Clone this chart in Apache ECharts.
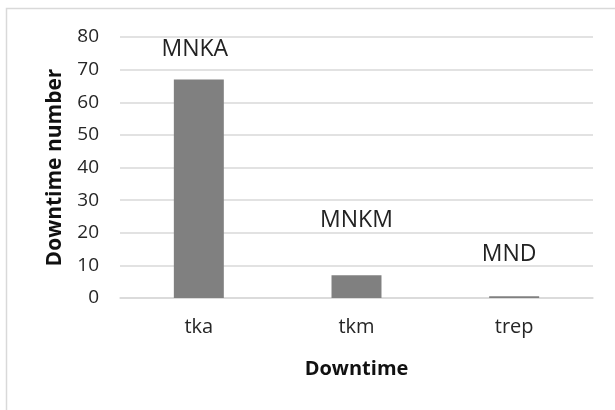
<!DOCTYPE html>
<html>
<head>
<meta charset="utf-8">
<script src="https://cdn.jsdelivr.net/npm/echarts@6/dist/echarts.min.js"></script>
<style>
  html, body { margin: 0; padding: 0; background: #fff; }
  #chart { width: 615px; height: 410px; }
</style>
</head>
<body>
<div id="chart"></div>
<script>
// Downtime counts per category
const categories = ['tka', 'tkm', 'trep'];
const downtimeValues = [67, 7, 0.5];
const pointLabels = ['MNKA', 'MNKM', 'MND'];
const yTicks = { min: 0, max: 80, interval: 10 };

// label placement above each bar: [distance, horizontal shift]
const labelPlacement = [[18, -4], [43, 0], [30, -5]];

const chart = echarts.init(document.getElementById('chart'), null, { renderer: 'canvas' });

const seriesData = downtimeValues.map((v, i) => ({
  value: v,
  label: {
    formatter: pointLabels[i],
    distance: labelPlacement[i][0],
    offset: [labelPlacement[i][1], 0]
  }
}));

chart.setOption({
  animation: false,
  backgroundColor: '#ffffff',
  graphic: [{
    type: 'rect',
    shape: { x: 6.5, y: 8.5, width: 800, height: 600 },
    style: { fill: 'none', stroke: '#d9d9d9', lineWidth: 1.5 },
    silent: true
  }],
  grid: { left: 120, right: 22, top: 37, bottom: 112 },
  xAxis: {
    type: 'category',
    data: categories,
    name: 'Downtime',
    nameLocation: 'middle',
    nameGap: 61,
    nameTextStyle: { fontFamily: 'Open Sans', fontWeight: 'bold', fontSize: 20, color: '#111111' },
    axisLine: { show: true, lineStyle: { color: '#d9d9d9', width: 1.5 } },
    axisTick: { show: false },
    axisLabel: { fontFamily: 'Open Sans', fontSize: 20, color: '#262626', margin: 19 }
  },
  yAxis: {
    type: 'value',
    min: yTicks.min,
    max: yTicks.max,
    interval: yTicks.interval,
    name: 'Downtime number',
    nameLocation: 'middle',
    nameGap: 54,
    nameTextStyle: { fontFamily: 'Open Sans', fontWeight: 'bold', fontSize: 21, color: '#111111' },
    axisLine: { show: false },
    axisTick: { show: false },
    axisLabel: { fontFamily: 'Open Sans', fontSize: 19, color: '#262626', margin: 21 },
    splitLine: { lineStyle: { color: '#d9d9d9', width: 1.5 } }
  },
  series: [{
    type: 'bar',
    data: seriesData,
    barWidth: '31.7%',
    itemStyle: { color: '#808080' },
    label: {
      show: true,
      position: 'top',
      fontFamily: 'Open Sans',
      fontSize: 23,
      color: '#222222'
    }
  }]
});
</script>
</body>
</html>
